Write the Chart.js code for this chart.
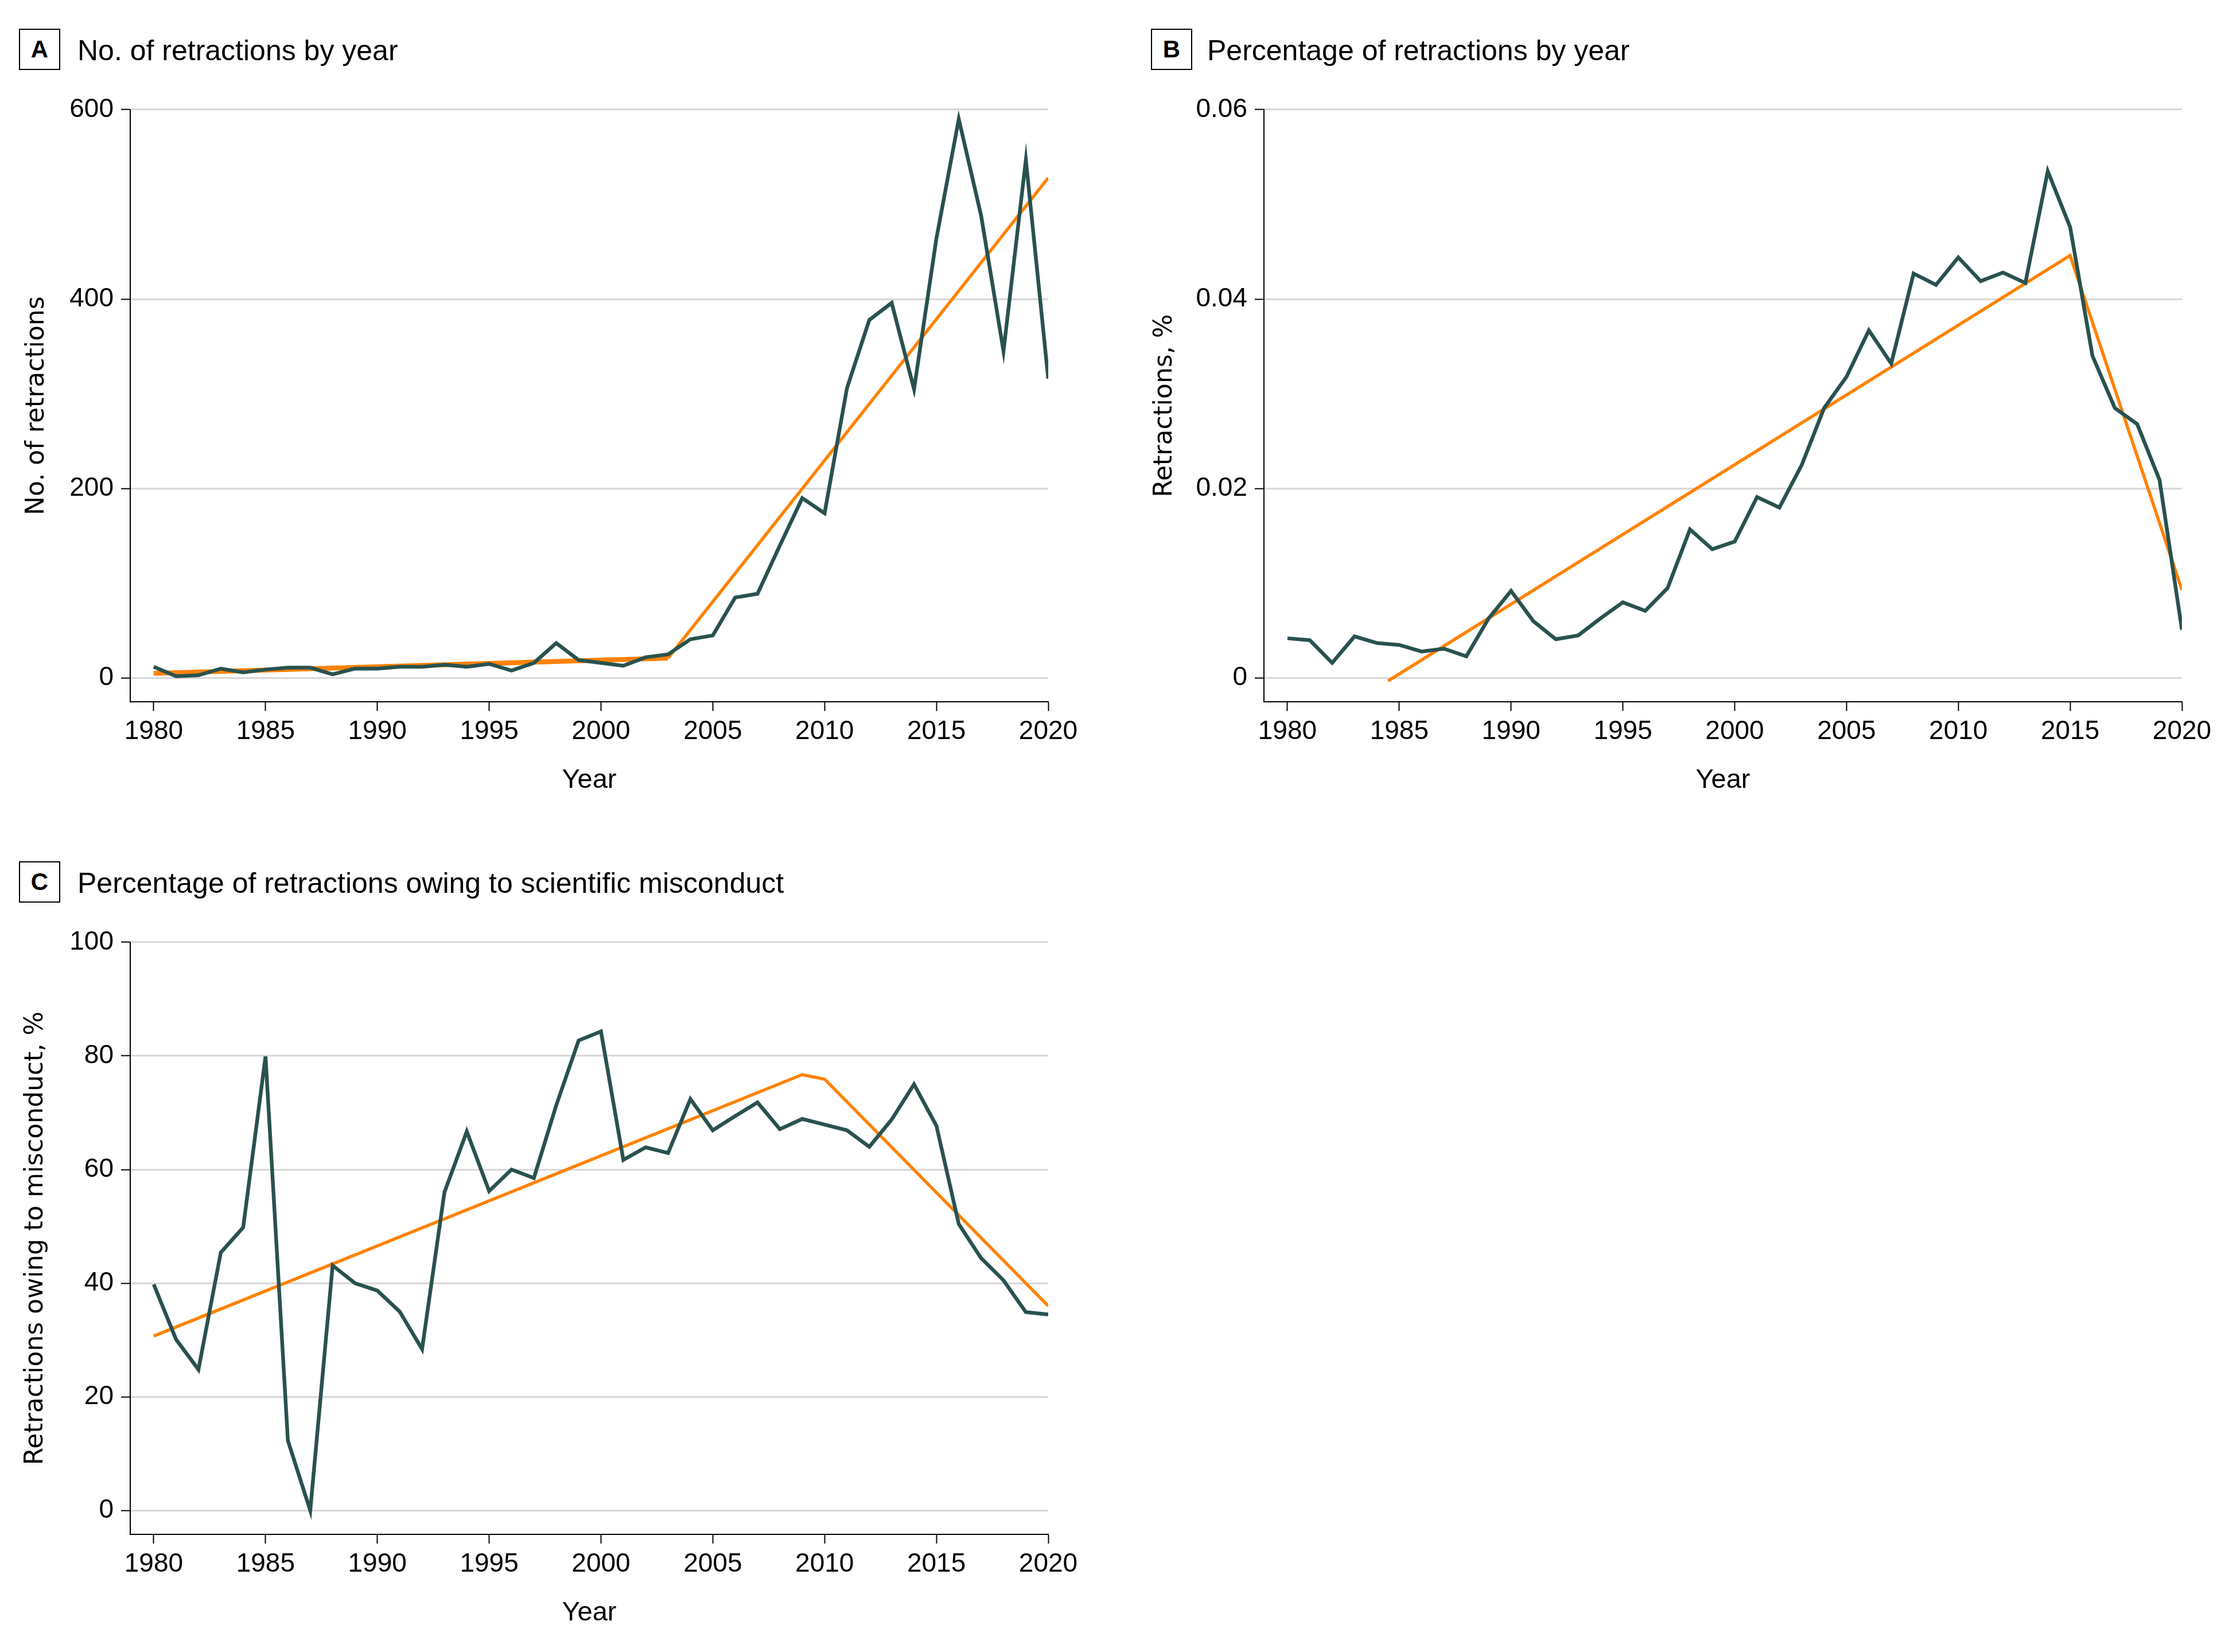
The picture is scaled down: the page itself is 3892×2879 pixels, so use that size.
<!DOCTYPE html>
<html>
<head>
<meta charset="utf-8">
<script src="https://cdn.jsdelivr.net/npm/chart.js@4"></script>
<style>
  html, body { margin: 0; padding: 0; background: #fff; }
  body { width: 3892px; height: 2879px; position: relative; overflow: hidden; font-family: "Liberation Sans", Arial, sans-serif; color: #000; }
  .box { position: absolute; width: 72px; height: 72px; box-sizing: border-box; border: 2.5px solid #000;
         font: bold 42px "Liberation Sans", Arial, sans-serif; display: flex; align-items: center; justify-content: center; }
  .ttl { position: absolute; font-size: 50px; line-height: 1; white-space: nowrap; }
  canvas { position: absolute; }
</style>
</head>
<body>

<div class="box" style="left:33px; top:50px;">A</div>
<div class="ttl" style="left:135px; top:63px;">No. of retractions by year</div>
<div class="box" style="left:2006px; top:50px;">B</div>
<div class="ttl" style="left:2104px; top:63px;">Percentage of retractions by year</div>
<div class="box" style="left:33px; top:1501px;">C</div>
<div class="ttl" style="left:135px; top:1514px;">Percentage of retractions owing to scientific misconduct</div>

<canvas id="chartA" width="1907" height="1253" style="left:0px; top:140px;"></canvas>
<canvas id="chartB" width="1907" height="1253" style="left:1976px; top:140px;"></canvas>
<canvas id="chartC" width="1907" height="1253" style="left:0px; top:1591px;"></canvas>

<script>
// Years (x categories)
const years = [1980, 1981, 1982, 1983, 1984, 1985, 1986, 1987, 1988, 1989,
               1990, 1991, 1992, 1993, 1994, 1995, 1996, 1997, 1998, 1999,
               2000, 2001, 2002, 2003, 2004, 2005, 2006, 2007, 2008, 2009,
               2010, 2011, 2012, 2013, 2014, 2015, 2016, 2017, 2018, 2019, 2020];
const xTicks = [1980, 1985, 1990, 1995, 2000, 2005, 2010, 2015, 2020];

// A: number of retractions
const retractions = [12, 2, 3, 10, 6, 9, 11, 11, 4, 10,
                     10, 12, 12, 14, 12, 15, 8, 16, 37, 19,
                     16, 13, 22, 25, 41, 45, 85, 89, 140, 190,
                     174, 306, 378, 396, 305, 464, 590, 488, 345, 547, 316];
const trendYearsA = [1980, 2003, 2020];
const trendA = [5, 21, 528];
const yTicksA = [0, 200, 400, 600];

// B: percentage of retractions
const retractPct = [0.0042, 0.0040, 0.0016, 0.0044, 0.0037, 0.0035, 0.0028, 0.0031, 0.0023, 0.0063,
                    0.0092, 0.0060, 0.0041, 0.0045, 0.0063, 0.0080, 0.0071, 0.0095, 0.0157, 0.0136,
                    0.0144, 0.0191, 0.0180, 0.0225, 0.0285, 0.0318, 0.0367, 0.0332, 0.0427, 0.0415,
                    0.0444, 0.0419, 0.0428, 0.0417, 0.0535, 0.0476, 0.0340, 0.0285, 0.0268, 0.0209, 0.0051];
const trendYearsB = [1984.5, 2015, 2020];
const trendB = [-0.0003, 0.0446, 0.0093];
const yTicksB = [0, 0.02, 0.04, 0.06];

// C: percentage owing to misconduct
const misconductPct = [39.8, 30.1, 24.8, 45.4, 49.8, 79.9, 12.3, 0, 43.1, 40.0,
                       38.7, 35.0, 28.4, 56.0, 66.7, 56.2, 60.0, 58.5, 71.3, 82.7,
                       84.3, 61.7, 63.9, 62.9, 72.4, 66.9, 69.4, 71.8, 67.1, 68.9,
                       67.9, 66.9, 64.0, 68.8, 75.0, 67.7, 50.4, 44.4, 40.5, 34.9, 34.5];
const trendYearsC = [1980, 2009, 2010, 2020];
const trendC = [30.7, 76.7, 75.9, 36.0];
const yTicksC = [0, 20, 40, 60, 80, 100];

const GREEN = '#29524f';
const ORANGE = '#ff8200';

Chart.defaults.font.family = '"Liberation Sans", Arial, sans-serif';
Chart.defaults.color = '#000';

function pairs(xs, ys) {
    return xs.map((x, i) => ({ x: x, y: ys[i] }));
}

function makeChart(id, opt) {
    const ctx = document.getElementById(id).getContext('2d');
    return new Chart(ctx, {
        type: 'line',
        data: {
            datasets: [
                {
                    data: pairs(years, opt.values),
                    borderColor: GREEN,
                    borderWidth: 6.5,
                    borderJoinStyle: 'miter',
                    pointRadius: 0,
                    tension: 0,
                    order: 0
                },
                {
                    data: pairs(opt.trendYears, opt.trend),
                    borderColor: ORANGE,
                    borderWidth: 5.5,
                    borderJoinStyle: 'miter',
                    pointRadius: 0,
                    tension: 0,
                    order: 1,
                    segment: opt.trendSegment || {}
                }
            ]
        },
        options: {
            responsive: false,
            animation: false,
            devicePixelRatio: 1,
            layout: { padding: { top: 51, right: 80, bottom: 0, left: 0 } },
            plugins: { legend: { display: false }, tooltip: { enabled: false } },
            scales: {
                x: {
                    type: 'linear',
                    min: 1978.95,
                    max: 2020,
                    afterBuildTicks: s => { s.ticks = xTicks.map(v => ({ value: v })); },
                    afterFit: s => { s.height = 170; },
                    grid: { drawOnChartArea: false, drawTicks: true, tickLength: 16, tickColor: '#000', tickWidth: 2 },
                    border: { color: '#000', width: 2 },
                    ticks: { padding: 9, font: { size: 46 }, color: '#000', maxRotation: 0, callback: v => String(v) },
                    title: { display: true, text: 'Year', font: { size: 47 }, color: '#000', padding: { top: 0, bottom: 5 } }
                },
                y: {
                    min: opt.yMin,
                    max: opt.yMax,
                    afterBuildTicks: s => { s.ticks = opt.yTicks.map(v => ({ value: v })); },
                    afterFit: s => { s.width = 227; },
                    grid: { color: '#d9d9d9', lineWidth: 3.3, drawTicks: true, tickLength: 16, tickColor: '#000', tickWidth: 2 },
                    border: { color: '#000', width: 2 },
                    ticks: { padding: 13, font: { size: 46 }, color: '#000', callback: opt.yFormat },
                    title: { display: true, text: opt.yTitle, color: '#000',
                             font: { family: '"DejaVu Sans", sans-serif', size: 44 },
                             padding: { top: opt.yTitlePad, bottom: 0 } }
                }
            }
        }
    });
}

makeChart('chartA', {
    values: retractions, trendYears: trendYearsA, trend: trendA,
    yMin: -25, yMax: 600, yTicks: yTicksA, yFormat: v => String(v),
    yTitle: 'No. of retractions', yTitlePad: 38,
    trendSegment: { borderWidth: c => (c.p0DataIndex === 0 ? 8.5 : 5.5) }
});

makeChart('chartB', {
    values: retractPct, trendYears: trendYearsB, trend: trendB,
    yMin: -0.0025, yMax: 0.06, yTicks: yTicksB, yFormat: v => (v === 0 ? '0' : v.toFixed(2)),
    yTitle: 'Retractions, %', yTitlePad: 28
});

makeChart('chartC', {
    values: misconductPct, trendYears: trendYearsC, trend: trendC,
    yMin: -4.2, yMax: 100, yTicks: yTicksC, yFormat: v => String(v),
    yTitle: 'Retractions owing to misconduct, %', yTitlePad: 36
});
</script>
</body>
</html>
